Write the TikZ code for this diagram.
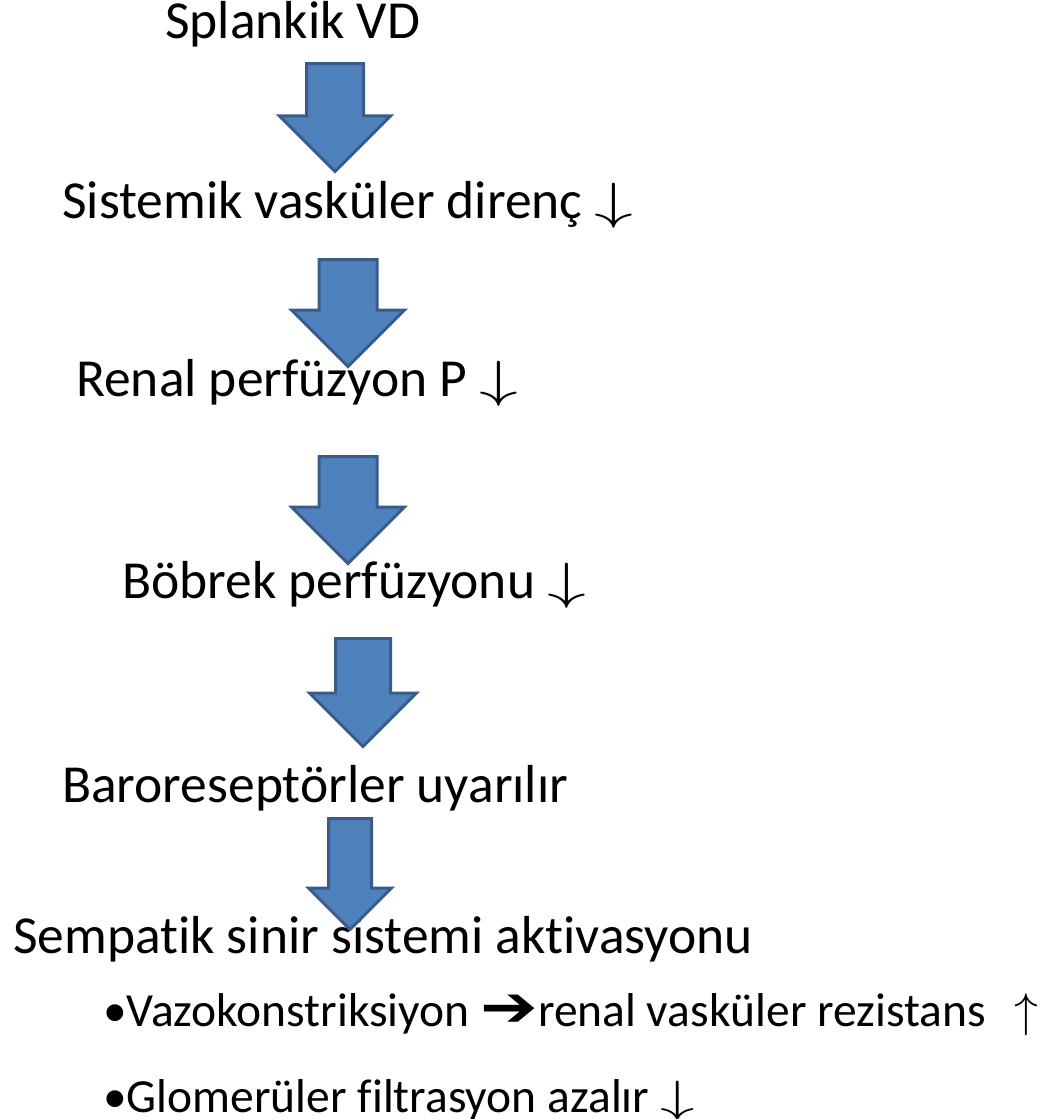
\RequirePackage{fix-cm}
\documentclass[tikz,border=0pt]{standalone}
\usepackage{fontspec}
\setmainfont[Ligatures=NoCommon]{Carlito}
\newfontfamily\symfont{DejaVu Sans}
\usepackage{graphicx}
\usepackage{tikz}
\usetikzlibrary{shapes.arrows}

\definecolor{arrowfill}{HTML}{4F81BD}
\definecolor{arrowline}{HTML}{385D8A}

\tikzset{
	steptext/.style={anchor=base west, inner sep=0pt, font=\fontsize{53.5}{64}\selectfont},
	bullettext/.style={anchor=base west, inner sep=0pt, font=\fontsize{47.5}{57}\selectfont},
	bigarrow/.style={single arrow, rotate=-90, anchor=tail, fill=arrowfill, draw=arrowline, line width=3pt,
		inner xsep=0pt, inner ysep=#1, single arrow head extend=#1}
}

\newcommand{\dn}{\scalebox{1.45}[0.95]{$\downarrow$}}
\newcommand{\up}{$\uparrow$}

\begin{document}
\begin{tikzpicture}[x=1pt,y=-1pt]
		\useasboundingbox (0,0) rectangle (1042,1119);
		%\draw [help lines, step=100] (0,0) grid (1042,1119);
		\node [steptext] (splank) at (165,38) {Splankik VD};
		\node [steptext] (svd) at (62,218) {Sistemik vasküler direnç \dn};
		\node [steptext] (renal) at (76,396) {Renal perfüzyon P \dn};
		\node [steptext] (bobrek) at (122,598) {Böbrek perfüzyonu \dn};
		\node [steptext] (baro) at (62,802) {Baroreseptörler uyarılır};
		\node [steptext] (symp) at (13,953) {Sempatik sinir sistemi aktivasyonu};
		
		\node [bullettext] (vazo) at (103,1026) {•Vazokonstriksiyon \scalebox{1.45}[1.2]{\symfont ➔}renal vasküler rezistans \hspace{18pt}\up};
		\node [bullettext] (glom) at (103,1112) {•Glomerüler filtrasyon azalır \dn};
		
		% block arrows
		\node [bigarrow=27pt, minimum height=108pt] (a1) at (335,62) {};
		\node [bigarrow=27.5pt, minimum height=107pt] (a2) at (348,258) {};
		\node [bigarrow=27.5pt, minimum height=107pt] (a3) at (348,455) {};
		\node [bigarrow=26pt, minimum height=108pt] (a4) at (363,637) {};
		\node [bigarrow=20pt, minimum height=111pt] (a5) at (350,817) {};
\end{tikzpicture}
\end{document}
